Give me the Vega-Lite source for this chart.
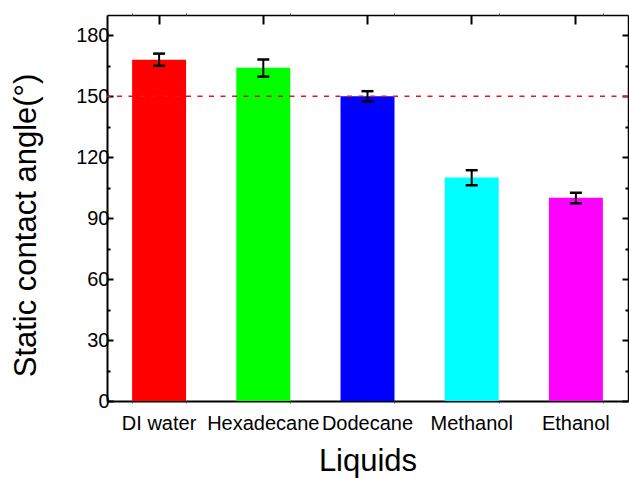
{
  "$schema": "https://vega.github.io/schema/vega-lite/v6.json",
  "width": 521,
  "height": 386,
  "autosize": {"type": "none"},
  "padding": {"left": 107, "top": 15, "right": 1, "bottom": 77},
  "background": "white",
  "config": {
    "view": {"stroke": null},
    "axis": {"grid": false, "labelFont": "Liberation Sans", "titleFont": "Liberation Sans", "labelColor": "black", "titleColor": "black", "titleFontWeight": "normal", "domainColor": "black", "tickColor": "black", "domainWidth": 2, "tickWidth": 2}
  },
  "datasets": {
    "bars": [
      {"liquid": "DI water", "angle": 168, "lo": 165, "hi": 171},
      {"liquid": "Hexadecane", "angle": 164, "lo": 159.7, "hi": 168.1},
      {"liquid": "Dodecane", "angle": 150, "lo": 147.5, "hi": 152.5},
      {"liquid": "Methanol", "angle": 110, "lo": 106.2, "hi": 113.6},
      {"liquid": "Ethanol", "angle": 100, "lo": 97.3, "hi": 102.5}
    ],
    "ref": [{"ref": 150}]
  },
  "resolve": {"axis": {"x": "independent", "y": "independent"}},
  "layer": [
    {
      "data": {"name": "bars"},
      "mark": {"type": "bar"},
      "encoding": {
        "x": {"field": "liquid", "type": "nominal", "sort": null,
          "scale": {"paddingInner": 0.482, "paddingOuter": 0.241},
          "axis": {"orient": "bottom", "labelAngle": 0, "labelFontSize": 20, "labelPadding": 21, "tickSize": -9, "title": "Liquids", "titleFontSize": 31, "titleY": 69, "titleBaseline": "alphabetic"}},
        "y": {"field": "angle", "type": "quantitative",
          "scale": {"domain": [0, 190], "nice": false, "zero": true},
          "axis": {"orient": "left", "values": [0, 30, 60, 90, 120, 150, 180], "tickSize": -6, "labelFontSize": 20, "labelPadding": 4, "title": "Static contact angle(°)", "titleFontSize": 31, "titleAngle": -90, "titleX": -72, "titleY": 210, "titleBaseline": "alphabetic", "titleAlign": "center"}},
        "color": {"field": "liquid", "type": "nominal", "legend": null,
          "scale": {"domain": ["DI water", "Hexadecane", "Dodecane", "Methanol", "Ethanol"], "range": ["#ff0000", "#00ff00", "#0000ff", "#00ffff", "#ff00ff"]}}
      }
    },
    {
      "data": {"name": "bars"},
      "mark": {"type": "rule", "color": "black", "strokeWidth": 2},
      "encoding": {
        "x": {"field": "liquid", "type": "nominal", "sort": null, "axis": null},
        "y": {"field": "lo", "type": "quantitative", "axis": null},
        "y2": {"field": "hi"}
      }
    },
    {
      "data": {"name": "bars"},
      "mark": {"type": "tick", "color": "black", "thickness": 2.5, "size": 12, "opacity": 1},
      "encoding": {
        "x": {"field": "liquid", "type": "nominal", "sort": null, "axis": null},
        "y": {"field": "hi", "type": "quantitative", "axis": null}
      }
    },
    {
      "data": {"name": "bars"},
      "mark": {"type": "tick", "color": "black", "thickness": 2.5, "size": 12, "opacity": 1},
      "encoding": {
        "x": {"field": "liquid", "type": "nominal", "sort": null, "axis": null},
        "y": {"field": "lo", "type": "quantitative", "axis": null}
      }
    },
    {
      "data": {"name": "ref"},
      "mark": {"type": "rule", "color": "#e8141a", "strokeWidth": 1.5, "strokeDash": [5, 6.5]},
      "encoding": {
        "y": {"field": "ref", "type": "quantitative",
          "axis": {"orient": "right", "values": [0, 30, 60, 90, 120, 150, 180], "tickSize": -6, "labels": false, "title": null, "domainWidth": 1.5}}
      }
    },
    {
      "data": {"name": "bars"},
      "mark": {"type": "tick", "opacity": 0},
      "encoding": {
        "x": {"field": "liquid", "type": "nominal", "sort": null,
          "axis": {"orient": "top", "tickSize": -9, "labels": false, "title": null, "domainWidth": 1.5}},
        "y": {"field": "angle", "type": "quantitative",
          "axis": {"orient": "left", "values": [15, 45, 75, 105, 135, 165], "tickSize": -3, "labels": false, "title": null, "domain": false}}
      }
    },
    {
      "data": {"name": "bars"},
      "mark": {"type": "tick", "opacity": 0},
      "encoding": {
        "x": {"field": "liquid", "type": "nominal", "sort": null,
          "axis": {"orient": "bottom", "tickBand": "extent", "tickSize": 2, "tickColor": "#555", "tickWidth": 1, "labels": false, "title": null, "domain": false}},
        "y": {"field": "angle", "type": "quantitative",
          "axis": {"orient": "right", "values": [15, 45, 75, 105, 135, 165], "tickSize": -3, "labels": false, "title": null, "domain": false}}
      }
    },
    {
      "data": {"name": "bars"},
      "mark": {"type": "tick", "opacity": 0},
      "encoding": {
        "x": {"field": "liquid", "type": "nominal", "sort": null,
          "axis": {"orient": "top", "tickBand": "extent", "tickSize": 2, "tickColor": "#555", "tickWidth": 1, "labels": false, "title": null, "domain": false}},
        "y": {"field": "angle", "type": "quantitative", "axis": null}
      }
    }
  ]
}
